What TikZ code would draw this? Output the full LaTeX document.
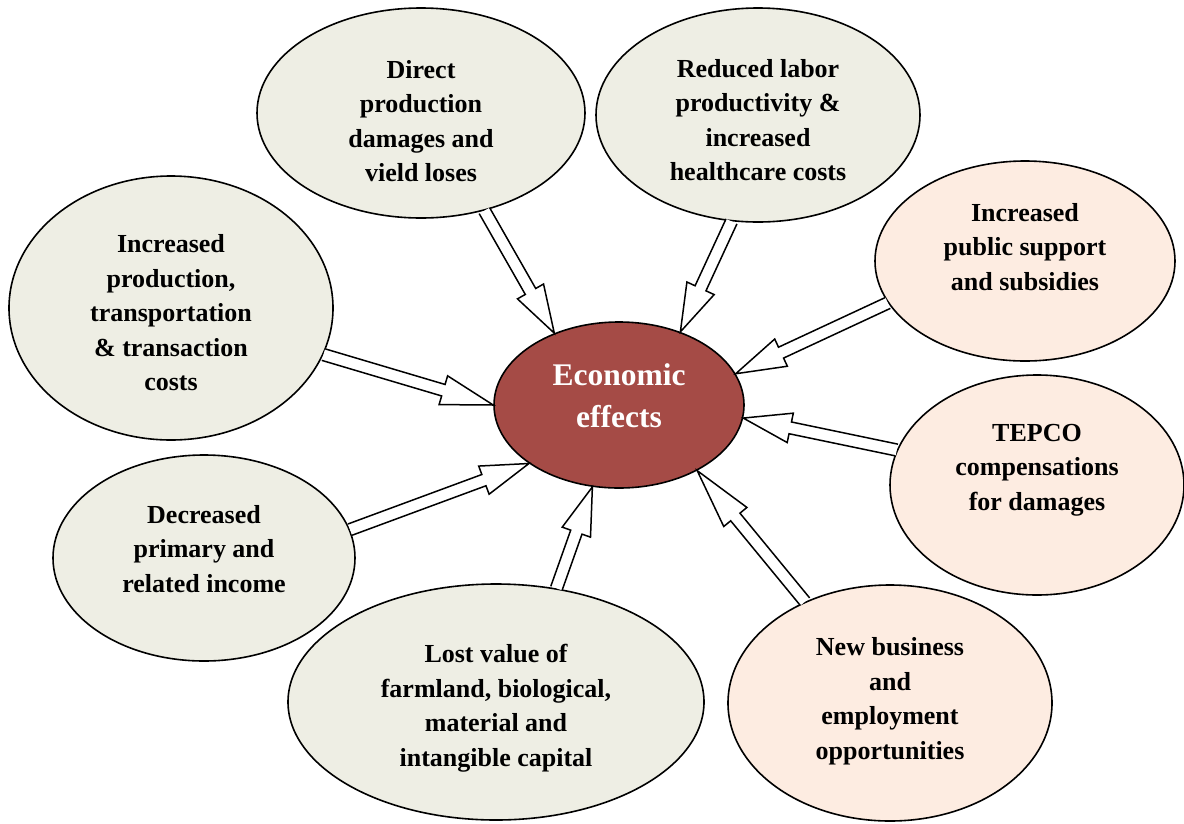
\documentclass[tikz,border=0pt]{standalone}
\usepackage{fontspec}
\setmainfont{Liberation Serif}
\usetikzlibrary{calc,shapes.geometric}

\definecolor{bubblegrey}{RGB}{238,238,228}
\definecolor{bubblepeach}{RGB}{253,236,225}
\definecolor{hubred}{RGB}{165,75,70}

\tikzset{
  bubble/.style={ellipse, draw=black, line width=1.6pt, inner sep=0pt},
  bubbletext/.style={align=center, font=\bfseries\fontsize{26}{34.5}\selectfont},
  arrowbody/.style={draw=black, fill=white, line width=1.5pt},
}

\newcommand{\shafthw}{6pt}
\newcommand{\headhw}{15pt}
% hollow block arrow: [head length]{tail}{tip}
\newcommand{\blockarrow}[3][48pt]{%
  \coordinate (ba-s) at (#2);
  \coordinate (ba-e) at (#3);
  \coordinate (ba-n) at ($(ba-e)!#1!(ba-s)$);
  \filldraw[arrowbody] ($(ba-s)!\shafthw!90:(ba-e)$) -- ($(ba-n)!\shafthw!90:(ba-e)$)
    -- ($(ba-n)!\headhw!90:(ba-e)$) -- (ba-e) -- ($(ba-n)!\headhw!-90:(ba-e)$)
    -- ($(ba-n)!\shafthw!-90:(ba-e)$) -- ($(ba-s)!\shafthw!-90:(ba-e)$);
}

\begin{document}
\begin{tikzpicture}[x=1pt,y=-1pt]
  \useasboundingbox (0,0) rectangle (1184,823);

  % outer bubbles
  \foreach \n/\x/\y/\rx/\ry/\col/\dy/\txt in {
    inc/171/308/162/132/bubblegrey/-5pt/{Increased\\production,\\transportation\\\& transaction\\costs},
    dir/421/113/164/105/bubblegrey/-8pt/{Direct\\production\\damages and\\vield loses},
    lab/758/115/162/107/bubblegrey/-5pt/{Reduced labor\\productivity \&\\increased\\healthcare costs},
    pub/1025/261/150/100/bubblepeach/14pt/{Increased\\public support\\and subsidies},
    tep/1037/485/147/110/bubblepeach/15pt/{TEPCO\\compensations\\for damages},
    new/890/703/162/118/bubblepeach/2pt/{New business\\and\\employment\\opportunities},
    lost/496/702/208/118/bubblegrey/-6pt/{Lost value of\\farmland, biological,\\material and\\intangible capital},
    dec/204/558/151/103/bubblegrey/9pt/{Decreased\\primary and\\related income}}{
    \node[bubble, fill=\col, minimum width=2*\rx, minimum height=2*\ry] (\n) at (\x,\y) {};
    \node[bubbletext] (\n-txt) at ([yshift=\dy]\n) {\txt};
  }

  % centre
  \node[bubble, fill=hubred, minimum width=250, minimum height=166] (ctr) at (619,405) {};
  \node[bubbletext, text=white, font=\bfseries\fontsize{31.5}{42}\selectfont]
    (ctr-txt) at ([yshift=9pt]ctr) {Economic\\effects};

  % arrows into the centre
  \foreach \n/\a/\b/\hl in {dir/-57/132/48pt, lab/-104/50/48pt, pub/197/15/50pt,
      tep/166/-6/48pt, new/130/-40/60pt, lost/62/-108/48pt, dec/11/213/48pt, inc/-17/180/52pt}
    \blockarrow[\hl]{\n.\a}{ctr.\b};
\end{tikzpicture}
\end{document}
